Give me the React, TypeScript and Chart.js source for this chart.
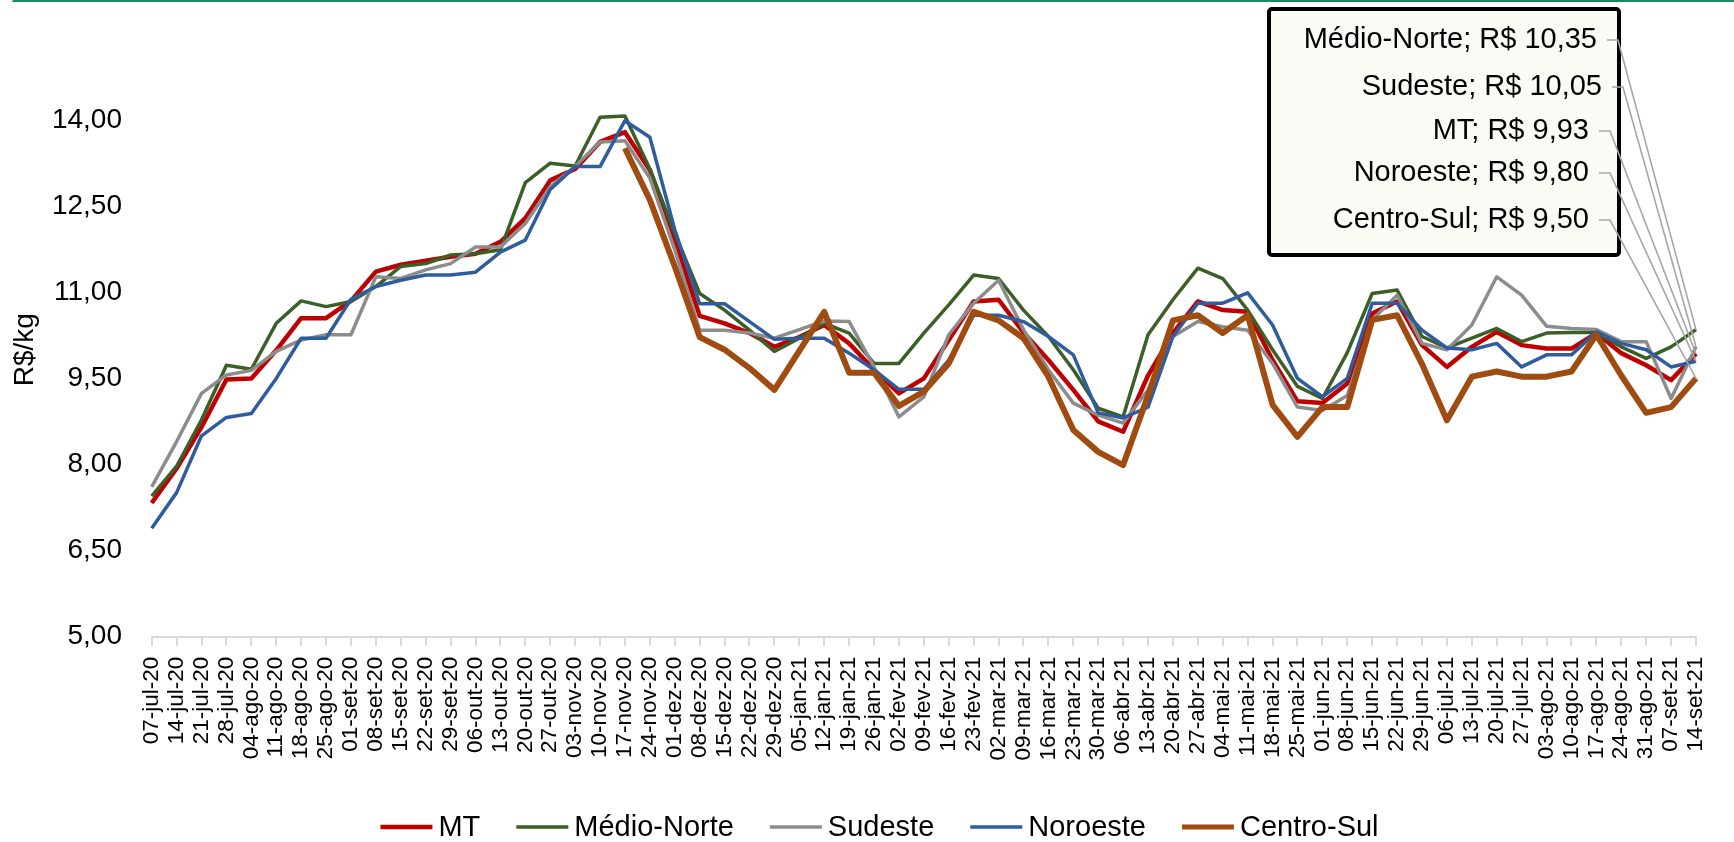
import React, { useEffect, useRef } from 'react';
import { Chart, registerables } from 'chart.js';

Chart.register(...registerables);

const weeks = [
  '07-jul-20', '14-jul-20', '21-jul-20', '28-jul-20', '04-ago-20', '11-ago-20', '18-ago-20', '25-ago-20',
  '01-set-20', '08-set-20', '15-set-20', '22-set-20', '29-set-20', '06-out-20', '13-out-20', '20-out-20',
  '27-out-20', '03-nov-20', '10-nov-20', '17-nov-20', '24-nov-20', '01-dez-20', '08-dez-20', '15-dez-20',
  '22-dez-20', '29-dez-20', '05-jan-21', '12-jan-21', '19-jan-21', '26-jan-21', '02-fev-21', '09-fev-21',
  '16-fev-21', '23-fev-21', '02-mar-21', '09-mar-21', '16-mar-21', '23-mar-21', '30-mar-21', '06-abr-21',
  '13-abr-21', '20-abr-21', '27-abr-21', '04-mai-21', '11-mai-21', '18-mai-21', '25-mai-21', '01-jun-21',
  '08-jun-21', '15-jun-21', '22-jun-21', '29-jun-21', '06-jul-21', '13-jul-21', '20-jul-21', '27-jul-21',
  '03-ago-21', '10-ago-21', '17-ago-21', '24-ago-21', '31-ago-21', '07-set-21', '14-set-21',
];

const mtValues = [
  7.33, 7.93, 8.65, 9.48, 9.5, 9.99, 10.55, 10.55, 10.85, 11.36, 11.48, 11.55, 11.62, 11.67, 11.88, 12.29,
  12.95, 13.15, 13.62, 13.79, 13.13, 11.91, 10.59, 10.46, 10.29, 10.05, 10.22, 10.43, 10.11, 9.65, 9.24, 9.5,
  10.17, 10.84, 10.87, 10.3, 9.82, 9.3, 8.75, 8.57, 9.55, 10.29, 10.84, 10.69, 10.66, 9.82, 9.1, 9.07,
  9.41, 10.63, 10.84, 10.08, 9.7, 10.05, 10.31, 10.08, 10.02, 10.02, 10.29, 9.94, 9.73, 9.47, 9.93,
];

const medioNorteValues = [
  7.45, 7.97, 8.78, 9.73, 9.66, 10.46, 10.85, 10.75, 10.84, 11.1, 11.45, 11.5, 11.65, 11.67, 11.74, 12.91,
  13.25, 13.2, 14.05, 14.07, 13.15, 12.03, 10.98, 10.69, 10.34, 9.97, 10.2, 10.46, 10.29, 9.76, 9.76, 10.29,
  10.78, 11.3, 11.24, 10.69, 10.23, 9.65, 8.98, 8.83, 10.26, 10.87, 11.42, 11.24, 10.69, 10.0, 9.36, 9.15,
  9.95, 10.98, 11.04, 10.23, 10.03, 10.2, 10.37, 10.14, 10.29, 10.3, 10.3, 10.05, 9.85, 10.05, 10.35,
];

const sudesteValues = [
  7.61, 8.4, 9.24, 9.56, 9.64, 9.97, 10.17, 10.26, 10.26, 11.27, 11.24, 11.39, 11.5, 11.79, 11.79, 12.2,
  12.84, 13.19, 13.62, 13.64, 12.99, 11.74, 10.34, 10.34, 10.29, 10.2, 10.35, 10.5, 10.49, 9.7, 8.83, 9.18,
  10.26, 10.81, 11.21, 10.35, 9.65, 9.07, 8.86, 8.72, 9.3, 10.23, 10.49, 10.4, 10.34, 9.76, 9.0, 8.94,
  9.2, 10.52, 10.95, 10.11, 10.0, 10.43, 11.27, 10.95, 10.41, 10.37, 10.35, 10.14, 10.14, 9.15, 10.05,
];

const noroesteValues = [
  6.89, 7.51, 8.5, 8.82, 8.89, 9.5, 10.2, 10.2, 10.88, 11.1, 11.21, 11.3, 11.3, 11.35, 11.7, 11.91,
  12.79, 13.19, 13.19, 13.99, 13.7, 12.09, 10.8, 10.8, 10.49, 10.18, 10.2, 10.2, 9.94, 9.65, 9.31, 9.31,
  9.82, 10.6, 10.6, 10.49, 10.23, 9.91, 8.9, 8.81, 9.0, 10.23, 10.81, 10.81, 10.99, 10.43, 9.5, 9.18,
  9.5, 10.81, 10.81, 10.34, 10.03, 10.0, 10.11, 9.7, 9.91, 9.91, 10.31, 10.11, 10.0, 9.7, 9.8,
];

const centroSulValues = [
  null, null, null, null, null, null, null, null, null, null, null, null, null, null, null, null,
  null, null, null, 13.51, 12.61, 11.45, 10.22, 10.0, 9.68, 9.3, 9.98, 10.66, 9.6, 9.6, 9.02, 9.27,
  9.76, 10.66, 10.51, 10.2, 9.53, 8.6, 8.22, 7.99, 9.2, 10.51, 10.6, 10.29, 10.6, 9.04, 8.48, 9.0,
  9.0, 10.52, 10.6, 9.75, 8.77, 9.53, 9.62, 9.53, 9.53, 9.62, 10.26, 9.55, 8.9, 9.0, 9.5,
];

const yTickValues = [5, 6.5, 8, 9.5, 11, 12.5, 14];

const seriesNames = ['MT', 'Médio-Norte', 'Sudeste', 'Noroeste', 'Centro-Sul'];

const FONT = '"Liberation Sans", Arial, sans-serif';

const fmt = (v: number) => v.toFixed(2).replace('.', ',');

export default function App() {
  const ref = useRef<HTMLCanvasElement>(null);

  useEffect(() => {
    const canvas = ref.current;
    if (!canvas) return;

    const series = [
      { name: seriesNames[0], data: mtValues, color: '#c00000', width: 4.5, order: 5 },
      { name: seriesNames[1], data: medioNorteValues, color: '#3a5f27', width: 3.5, order: 4 },
      { name: seriesNames[2], data: sudesteValues, color: '#8c8c8c', width: 3.5, order: 3 },
      { name: seriesNames[3], data: noroesteValues, color: '#2f5c9e', width: 3.5, order: 2 },
      { name: seriesNames[4], data: centroSulValues, color: '#a04c10', width: 6, order: 1 },
    ];

    // callout layout: dataset index, text center y, text right edge
    const callout = [
      { ds: 1, y: 40, right: 1597 },
      { ds: 2, y: 87, right: 1602 },
      { ds: 0, y: 131, right: 1589 },
      { ds: 3, y: 173, right: 1589 },
      { ds: 4, y: 220, right: 1589 },
    ];

    const calloutPlugin = {
      id: 'callout',
      afterDatasetsDraw(chart: any) {
        const ctx = chart.ctx as CanvasRenderingContext2D;
        const xs = chart.scales.x;
        const ys = chart.scales.y;
        ctx.save();
        ctx.beginPath();
        (ctx as any).roundRect(1269, 9, 350, 246, 3);
        ctx.fillStyle = '#fbfbf6';
        ctx.fill();
        ctx.lineWidth = 4;
        ctx.strokeStyle = '#000000';
        ctx.stroke();
        ctx.font = `29px ${FONT}`;
        ctx.fillStyle = '#000000';
        ctx.textAlign = 'right';
        ctx.textBaseline = 'middle';
        callout.forEach((c) => {
          const s = series[c.ds];
          const arr = s.data as (number | null)[];
          const last = arr[arr.length - 1] as number;
          ctx.fillText(`${s.name}; R$ ${fmt(last)}`, c.right, c.y);
        });
        ctx.strokeStyle = '#a6a6a6';
        ctx.lineWidth = 1.6;
        callout.forEach((c) => {
          const s = series[c.ds];
          const arr = s.data as (number | null)[];
          const lastIdx = arr.length - 1;
          const px = xs.getPixelForValue(lastIdx);
          const py = ys.getPixelForValue(arr[lastIdx] as number);
          ctx.beginPath();
          ctx.moveTo(c.right + 10, c.y);
          ctx.lineTo(c.right + 21, c.y);
          ctx.lineTo(px, py);
          ctx.stroke();
        });
        ctx.restore();
      },
    };

    const legendPlugin = {
      id: 'lineLegend',
      afterDraw(chart: any) {
        const ctx = chart.ctx as CanvasRenderingContext2D;
        const ds = chart.data.datasets as any[];
        const lineLen = 52;
        const gapText = 6;
        const gapItem = 36;
        const centerX = 879.5;
        const cy = 827;
        ctx.save();
        ctx.font = `29px ${FONT}`;
        const widths = ds.map((d) => lineLen + gapText + ctx.measureText(d.label).width);
        const total = widths.reduce((a, b) => a + b, 0) + gapItem * (ds.length - 1);
        let x = centerX - total / 2;
        ds.forEach((d, i) => {
          ctx.beginPath();
          ctx.strokeStyle = d.borderColor;
          ctx.lineWidth = Math.min(d.borderWidth, 5);
          ctx.lineCap = 'butt';
          ctx.moveTo(x, cy);
          ctx.lineTo(x + lineLen, cy);
          ctx.stroke();
          ctx.fillStyle = '#000000';
          ctx.textAlign = 'left';
          ctx.textBaseline = 'middle';
          ctx.fillText(d.label, x + lineLen + gapText, cy + 1);
          x += widths[i] + gapItem;
        });
        ctx.restore();
      },
    };

    const chart = new Chart(canvas, {
      type: 'line',
      data: {
        labels: weeks,
        datasets: series.map((s) => ({
          label: s.name,
          data: s.data,
          borderColor: s.color,
          backgroundColor: s.color,
          borderWidth: s.width,
          pointRadius: 0,
          pointHoverRadius: 0,
          tension: 0,
          fill: false,
          spanGaps: false,
          order: s.order,
          borderJoinStyle: 'round' as const,
        })),
      },
      options: {
        animation: false,
        responsive: false,
        devicePixelRatio: 1,
        layout: { padding: { left: 8, right: 26, top: 62.7, bottom: 0 } },
        plugins: {
          tooltip: { enabled: false },
          legend: { display: false },
        },
        scales: {
          x: {
            type: 'category',
            offset: false,
            grid: {
              display: true,
              drawOnChartArea: false,
              drawTicks: true,
              tickLength: 9,
              color: '#d9d9d9',
              lineWidth: 2,
            },
            border: { display: true, color: '#d9d9d9', width: 2 },
            ticks: {
              autoSkip: false,
              maxRotation: 90,
              minRotation: 90,
              padding: 11,
              color: '#000000',
              font: { family: FONT, size: 22.5 },
            },
            afterFit: (scale: any) => {
              scale.height = 205.3;
            },
          },
          y: {
            min: 5,
            max: 15,
            grid: { display: false, drawTicks: false },
            border: { display: false },
            title: {
              display: true,
              text: 'R$/kg',
              color: '#000000',
              font: { family: FONT, size: 28 },
              padding: { top: 0, bottom: 0 },
            },
            ticks: {
              padding: 29.7,
              color: '#000000',
              font: { family: FONT, size: 28 },
              callback: (v: any) => fmt(Number(v)),
            },
            afterBuildTicks: (scale: any) => {
              scale.ticks = yTickValues.map((v) => ({ value: v }));
            },
            afterFit: (scale: any) => {
              scale.width = 143.7;
            },
          },
        },
      },
      plugins: [calloutPlugin, legendPlugin],
    } as any);

    return () => chart.destroy();
  }, []);

  return (
    <div
      style={{
        position: 'fixed',
        left: 0,
        top: 0,
        width: 1734,
        height: 842,
        overflow: 'hidden',
        background: '#ffffff',
      }}
    >
      <canvas ref={ref} width={1734} height={842} style={{ position: 'absolute', left: 0, top: 0 }} />
      <div
        style={{
          position: 'absolute',
          left: 12,
          top: 0,
          right: 0,
          height: 2,
          background: '#1b8a5c',
          borderTopLeftRadius: 2,
        }}
      />
    </div>
  );
}
